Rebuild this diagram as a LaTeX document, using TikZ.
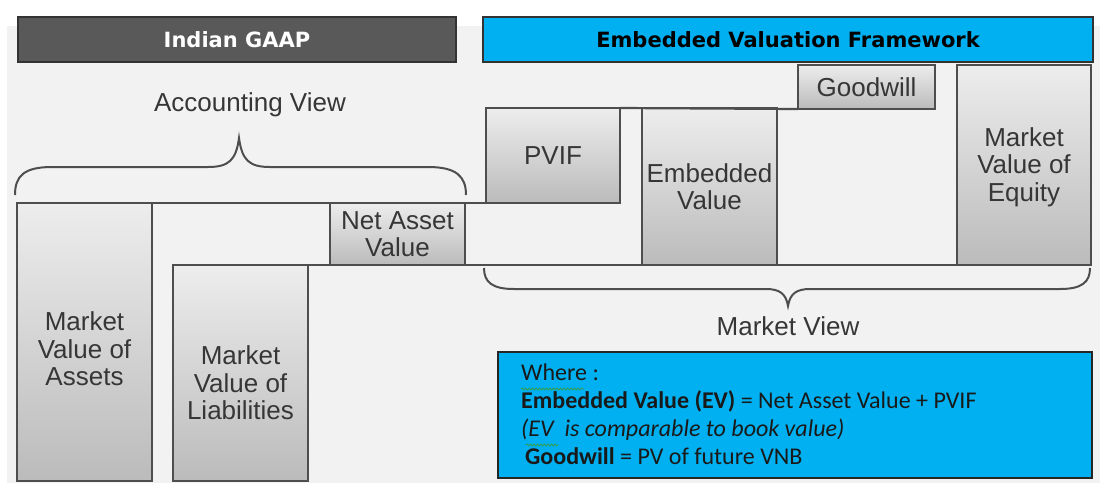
\documentclass[tikz,border=0pt]{standalone}
\usepackage{fontspec}
\setmainfont{Liberation Sans}
\newfontfamily\headfont{DejaVu Sans}
\newfontfamily\notefont{Carlito}
\usepackage{tikz}
\usetikzlibrary{calc}
\usetikzlibrary{decorations.pathmorphing}

\definecolor{bgray}{HTML}{F2F2F2}
\definecolor{hdark}{HTML}{595959}
\definecolor{skyblue}{HTML}{00B0F0}
\definecolor{edge}{HTML}{4E4E4E}
\definecolor{bartop}{HTML}{EDEDED}
\definecolor{barbot}{HTML}{BBBBBB}
\definecolor{labtext}{HTML}{363636}
\definecolor{squiggle}{HTML}{3C9A3C}

\begin{document}
\begin{tikzpicture}[x=1pt,y=-1pt,
    bar/.style={draw=edge, line width=2.2pt, top color=bartop, bottom color=barbot,
        anchor=north west, inner sep=0pt, outer sep=0pt, align=center, text=labtext,
        font=\fontsize{26}{27.5}\selectfont},
    barlabel/.style={align=center, text=labtext, font=\fontsize{26}{27.5}\selectfont},
    header/.style={draw=black!80, line width=1.2pt, anchor=north west, inner sep=0pt,
        outer sep=0pt, minimum height=45pt, font=\headfont\bfseries\fontsize{21}{24}\selectfont},
    brace/.style={draw=edge, line width=2pt},
    viewlabel/.style={text=labtext, font=\fontsize{26}{28}\selectfont},
    spell/.style={draw=squiggle, line width=0.7pt, decorate,
        decoration={snake, amplitude=1pt, segment length=3.5pt}}]
        % \draw (0,0) rectangle (1107,483);
        \useasboundingbox (0,0) rectangle (1107,483);
        \fill[white] (0,0) rectangle (1107,483);
        \fill[bgray] (7,26) rectangle (1100,483);

        \node[header, fill=hdark, text=white, minimum width=438pt] (gaap) at (18,17) {Indian GAAP};
        \node[header, fill=skyblue, text=black, minimum width=610pt] (evf) at (483,17) {Embedded Valuation Framework};

        % accounting view
        \node[bar, minimum width=135pt, minimum height=278pt] (assets) at (17,203) {};
        \node[barlabel] (assetslab) at ($(assets.center)+(0,7)$) {Market\\Value of\\Assets};
        \node[bar, minimum width=135pt, minimum height=216pt] (liab) at (173,265) {};
        \node[barlabel] (liablab) at ($(liab.center)+(0,10)$) {Market\\Value of\\Liabilities};
        \node[bar, minimum width=135pt, minimum height=62pt] (nav) at (330,203) {Net Asset\\Value};

        % market view
        \node[bar, minimum width=134pt, minimum height=95pt] (pvif) at (486,108) {PVIF};
        \node[bar, minimum width=135pt, minimum height=157pt] (ev) at (642,108) {Embedded\\Value};
        \node[bar, minimum width=137pt, minimum height=44pt] (gw) at (798,65) {Goodwill};
        \node[bar, minimum width=134pt, minimum height=200pt] (eq) at (957,65) {};
        \node[barlabel] (eqlab) at ($(eq.center)+(0,2)$) {Market\\Value of\\Equity};

        \draw[edge, line width=2.2pt] (assets.north east) -- (nav.north west);
        \draw[edge, line width=2.2pt] (nav.north east) -- (pvif.south west);
        \draw[edge, line width=2.2pt] (liab.north east) -- (eq.south west);
        \draw[edge, line width=2.2pt] (pvif.north east) -- (gw.south west);

        % braces
        \draw[brace] (15,195) .. controls (15,176) and (24,167) .. (52,167) -- (208,167)
            .. controls (229,167) and (236,160) .. (239,138)
            .. controls (242,160) and (249,167) .. (270,167) -- (428,167)
            .. controls (456,167) and (466,176) .. (466,195);
        \draw[brace] (484,268) .. controls (484,282) and (492,289) .. (514,289) -- (766,289)
            .. controls (780,289) and (786,294) .. (788,306)
            .. controls (790,294) and (796,289) .. (810,289) -- (1060,289)
            .. controls (1082,289) and (1090,282) .. (1090,268);

        \node[viewlabel] (accview) at (250,105) {Accounting View};
        \node[viewlabel] (mktview) at (788,326) {Market View};

        % note box
        \node[draw=black!85, line width=1.5pt, fill=skyblue, anchor=north west, outer sep=0pt,
            minimum width=594pt, minimum height=126pt] (note) at (498,352) {};
        \node[anchor=north west, align=left, inner sep=0pt, text=black!90,
            font=\notefont\fontsize{24}{28}\selectfont] (notetext) at (521,364)
            {Where :\\
             \textbf{Embedded Value (EV)} = Net Asset Value + PVIF\\
             \textit{(EV\ \ is comparable to book value)}\\
             \,\textbf{Goodwill} = PV of future VNB};
        \draw[spell] (521,389) -- (584,389);
        \draw[spell] (526,445) -- (558,445);
\end{tikzpicture}
\end{document}
